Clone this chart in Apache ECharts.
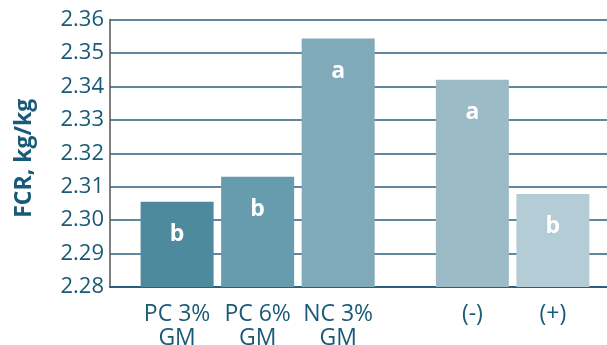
<!DOCTYPE html>
<html>
<head>
<meta charset="utf-8">
<script src="https://cdn.jsdelivr.net/npm/echarts@6/dist/echarts.min.js"></script>
<style>
  html, body { margin: 0; padding: 0; background: #fff; }
  #main { width: 607px; height: 345px; }
</style>
</head>
<body>
<div id="main"></div>
<script>
// slots on the x axis (thirds of a bar step), only some of them carry a bar
const categories = ['', '', 'PC 3%\nGM', '', '', 'PC 6%\nGM', '', '', 'NC 3%\nGM', '', '', '', '', '(-)', '', '', '(+)', '', ''];
const barSlots = [2, 5, 8, 13, 16];
const fcrValues = [2.3055, 2.313, 2.3543, 2.342, 2.3078];
const letters = ['b', 'b', 'a', 'a', 'b'];
const barColors = ['#4e8a9e', '#669cad', '#80a9b9', '#9bbbc7', '#b4ccd6'];
const yTicks = { min: 2.28, max: 2.36, interval: 0.01 };

const textColor = '#195a78';
const gridColor = '#2b5f7e';

const seriesData = categories.map(() => null);
barSlots.forEach((slot, i) => {
  seriesData[slot] = {
    value: fcrValues[i],
    itemStyle: { color: barColors[i] },
    label: { formatter: letters[i] }
  };
});

const myChart = echarts.init(document.getElementById('main'), null, { renderer: 'canvas' });

const option = {
  animation: false,
  backgroundColor: '#fff',
  grid: {
    left: 110, right: -13, top: 19.5, bottom: 58,
    containLabel: false,
    outerBoundsMode: 'none'
  },
  xAxis: {
    type: 'category',
    data: categories,
    axisLine: { lineStyle: { color: gridColor, width: 2 } },
    axisTick: { show: false },
    axisLabel: {
      interval: 0,
      color: textColor,
      fontFamily: 'Open Sans',
      fontSize: 23,
      lineHeight: 24,
      margin: 15
    }
  },
  yAxis: {
    type: 'value',
    min: yTicks.min,
    max: yTicks.max,
    interval: yTicks.interval,
    name: 'FCR, kg/kg',
    nameLocation: 'middle',
    nameGap: 74,
    nameTextStyle: {
      color: textColor,
      fontFamily: 'Open Sans',
      fontWeight: 'bold',
      fontSize: 23,
      padding: [0, 10, 0, 0]
    },
    axisLine: { show: true, lineStyle: { color: '#555', width: 1.5 } },
    axisTick: { show: false },
    axisLabel: {
      color: textColor,
      fontFamily: 'Open Sans',
      fontSize: 22,
      margin: 6,
      formatter: v => v.toFixed(2)
    },
    splitLine: { lineStyle: { color: gridColor, width: 1.5 } }
  },
  series: [{
    type: 'bar',
    data: seriesData,
    barWidth: 73,
    label: {
      show: true,
      position: 'insideTop',
      distance: 21,
      color: '#fff',
      fontFamily: 'Open Sans',
      fontWeight: 'bold',
      fontSize: 23
    }
  }]
};

myChart.setOption(option);
</script>
</body>
</html>
